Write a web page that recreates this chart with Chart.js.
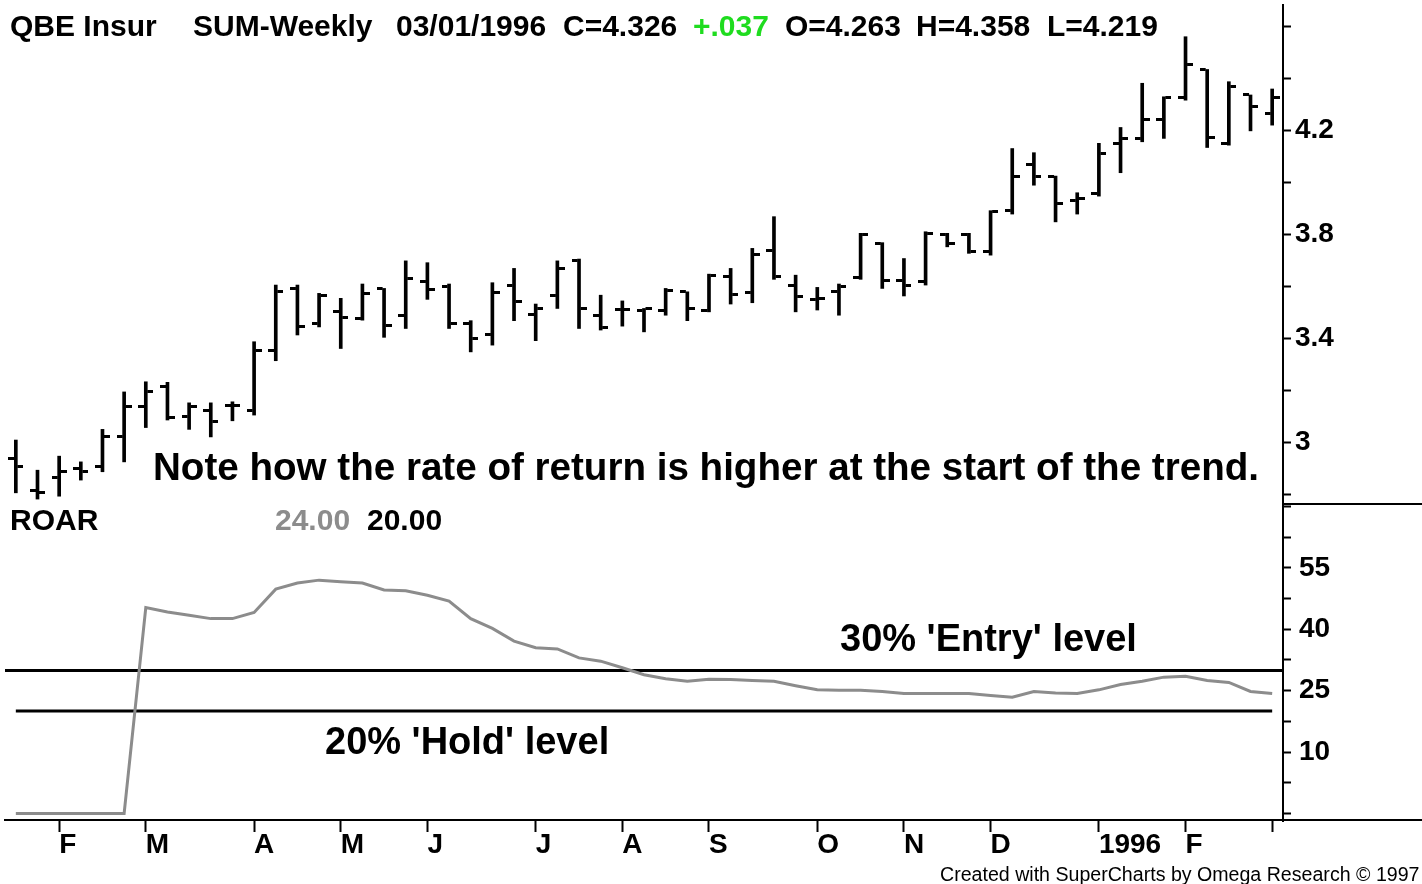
<!DOCTYPE html>
<html>
<head>
<meta charset="utf-8">
<script src="https://cdn.jsdelivr.net/npm/chart.js@4.4.1/dist/chart.umd.min.js"></script>
<style>
  body { margin: 0; background: #fff; }
  #wrap { position: relative; width: 1422px; height: 884px; overflow: hidden; }
  .txt { position: absolute; white-space: nowrap; line-height: 1; font-family: "Liberation Sans", Arial, sans-serif; color: #000; }
  .hdr { top: 11px; font-size: 30px; font-weight: bold; }
  .big { font-size: 38px; font-weight: bold; }
</style>
</head>
<body>
<div id="wrap">
  <canvas id="chart"></canvas>
  <div class="txt hdr" style="left:10px">QBE Insur</div>
  <div class="txt hdr" style="left:193px">SUM-Weekly</div>
  <div class="txt hdr" style="left:396px">03/01/1996</div>
  <div class="txt hdr" style="left:563px">C=4.326</div>
  <div class="txt hdr" style="left:693px;color:#1fdc1f">+.037</div>
  <div class="txt hdr" style="left:785px">O=4.263</div>
  <div class="txt hdr" style="left:916px">H=4.358</div>
  <div class="txt hdr" style="left:1047px">L=4.219</div>
  <div class="txt big" style="left:153px;top:448px;font-size:38.6px">Note how the rate of return is higher at the start of the trend.</div>
  <div class="txt hdr" style="left:10px;top:505px">ROAR</div>
  <div class="txt hdr" style="left:275px;top:505px;color:#8c8c8c">24.00</div>
  <div class="txt hdr" style="left:367px;top:505px">20.00</div>
  <div class="txt big" style="left:840px;top:619px">30% 'Entry' level</div>
  <div class="txt big" style="left:325px;top:722px">20% 'Hold' level</div>
  <div class="txt" style="left:940px;top:865px;font-size:19.6px">Created with SuperCharts by Omega Research © 1997</div>
</div>
<script>
// weekly bars, week ending
const weeks = ['01/20/1995','01/27/1995','02/03/1995','02/10/1995','02/17/1995','02/24/1995',
  '03/03/1995','03/10/1995','03/17/1995','03/24/1995','03/31/1995',
  '04/07/1995','04/14/1995','04/21/1995','04/28/1995',
  '05/05/1995','05/12/1995','05/19/1995','05/26/1995',
  '06/02/1995','06/09/1995','06/16/1995','06/23/1995','06/30/1995',
  '07/07/1995','07/14/1995','07/21/1995','07/28/1995',
  '08/04/1995','08/11/1995','08/18/1995','08/25/1995',
  '09/01/1995','09/08/1995','09/15/1995','09/22/1995','09/29/1995',
  '10/06/1995','10/13/1995','10/20/1995','10/27/1995',
  '11/03/1995','11/10/1995','11/17/1995','11/24/1995',
  '12/01/1995','12/08/1995','12/15/1995','12/22/1995','12/29/1995',
  '01/05/1996','01/12/1996','01/19/1996','01/26/1996',
  '02/02/1996','02/09/1996','02/16/1996','02/23/1996',
  '03/01/1996'];

const opens = [2.938,2.815,2.862,2.899,2.905,3.020,3.138,3.212,3.097,3.123,3.142,3.123,3.354,3.591,3.456,
  3.501,3.476,3.591,3.485,3.617,3.597,3.456,3.415,3.604,3.492,3.562,3.700,3.485,3.510,3.508,
  3.508,3.578,3.508,3.636,3.574,3.736,3.604,3.549,3.578,3.633,3.764,3.623,3.617,3.800,3.800,
  3.732,3.892,4.069,4.023,3.931,3.956,4.149,4.168,4.241,4.326,4.433,4.149,4.335,4.263];
const highs = [3.008,2.892,2.946,2.924,3.049,3.193,3.232,3.230,3.151,3.151,3.155,3.386,3.604,3.604,3.572,
  3.553,3.608,3.591,3.697,3.690,3.608,3.467,3.613,3.668,3.531,3.697,3.704,3.565,3.543,3.514,
  3.591,3.578,3.646,3.668,3.745,3.867,3.642,3.595,3.608,3.803,3.767,3.706,3.809,3.803,3.803,
  3.890,4.129,4.113,4.023,3.959,4.149,4.210,4.380,4.328,4.559,4.433,4.386,4.335,4.358];
const lows = [2.805,2.781,2.792,2.854,2.886,2.924,3.056,3.085,3.049,3.020,3.082,3.104,3.313,3.412,3.443,
  3.360,3.469,3.403,3.437,3.549,3.437,3.347,3.373,3.467,3.390,3.514,3.437,3.431,3.446,3.424,
  3.488,3.467,3.501,3.531,3.536,3.626,3.501,3.508,3.488,3.626,3.591,3.562,3.604,3.751,3.726,
  3.719,3.877,3.988,3.847,3.877,3.946,4.036,4.155,4.168,4.315,4.133,4.142,4.197,4.219];
const closes = [2.908,2.808,2.888,2.886,3.020,3.138,3.193,3.096,3.136,3.078,3.142,3.351,3.578,3.443,3.562,
  3.480,3.572,3.450,3.630,3.587,3.456,3.399,3.574,3.540,3.514,3.668,3.514,3.441,3.510,3.514,
  3.582,3.514,3.642,3.569,3.723,3.636,3.559,3.553,3.600,3.800,3.623,3.604,3.803,3.762,3.732,
  3.886,4.020,4.020,3.918,3.937,4.110,4.168,4.241,4.326,4.454,4.172,4.367,4.289,4.326];

// ROAR indicator (%)
const roar = [-5,-5,-5,-5,-5,-5,45.3,44.2,43.4,42.6,42.6,44.1,49.8,51.3,52.0,51.6,51.3,49.6,49.4,48.3,
  46.9,42.6,40.2,37.1,35.5,35.2,33.0,32.2,30.6,28.9,27.9,27.3,27.8,27.7,27.5,27.3,26.2,25.2,25.1,25.1,
  24.8,24.3,24.3,24.3,24.3,23.8,23.4,24.8,24.4,24.3,25.2,26.5,27.3,28.3,28.5,27.5,27.0,24.8,24.3];
const ENTRY_LEVEL = 30;
const HOLD_LEVEL = 20;

const monthTickIdx = [2, 6, 11, 15, 19, 24, 28, 32, 37, 41, 45, 50, 54, 58];
const monthTickText = ['F','M','A','M','J','J','A','S','O','N','D','1996','F',''];
const priceTicks = [2.8, 3, 3.2, 3.4, 3.6, 3.8, 4, 4.2, 4.4, 4.6];
const priceLabels = [3, 3.4, 3.8, 4.2];
const roarTicks = [-5, 2.5, 10, 17.5, 25, 32.5, 40, 47.5, 55, 62.5, 70];
const roarLabels = [10, 25, 40, 55];

const GRAY = '#8c8c8c';
const AXIS_W = 139;

function tickMark(side) {
  const c = document.createElement('canvas');
  c.width = 15;
  c.height = 3;
  const g = c.getContext('2d');
  g.fillStyle = '#000';
  g.fillRect(side === 'left' ? 0 : 9, 0, 6, 3);
  return c;
}

const extraLines = {
  id: 'extraLines',
  afterDraw(chart) {
    const { ctx, chartArea } = chart;
    const top = chart.scales.yRoar.top;
    ctx.save();
    ctx.fillStyle = '#000';
    ctx.fillRect(chartArea.right, Math.round(top) - 1, chart.width - chartArea.right, 2);
    ctx.fillRect(chartArea.right, Math.round(chartArea.bottom) - 1, chart.width - chartArea.right, 2);
    ctx.restore();
  }
};

Chart.defaults.font.family = "'Liberation Sans', Arial, sans-serif";
Chart.defaults.color = '#000';

const axisFont = { size: 28, weight: 'bold', lineHeight: 1 };
const isEntry = (c) => c.tick && c.tick.value === ENTRY_LEVEL;

new Chart(document.getElementById('chart'), {
  type: 'bar',
  data: {
    labels: weeks,
    datasets: [
      {
        type: 'line',
        data: opens,
        yAxisID: 'yPrice',
        showLine: false,
        pointStyle: tickMark('left'),
      },
      {
        type: 'line',
        data: closes,
        yAxisID: 'yPrice',
        showLine: false,
        pointStyle: tickMark('right'),
      },
      {
        data: lows.map((l, i) => [l, highs[i]]),
        yAxisID: 'yPrice',
        backgroundColor: '#000',
        barThickness: 3,
        grouped: false,
      },
      {
        type: 'line',
        data: roar,
        yAxisID: 'yRoar',
        borderColor: GRAY,
        borderWidth: 3,
        pointRadius: 0,
        tension: 0,
      },
      {
        type: 'line',
        data: weeks.map(() => HOLD_LEVEL),
        yAxisID: 'yRoar',
        borderColor: '#000',
        borderWidth: 3,
        pointRadius: 0,
      },
    ],
  },
  options: {
    responsive: true,
    maintainAspectRatio: false,
    animation: false,
    events: [],
    layout: { padding: { left: 0, top: 5, right: 0, bottom: 0 } },
    plugins: { legend: { display: false }, tooltip: { enabled: false } },
    scales: {
      x: {
        offset: true,
        grid: {
          offset: false,
          drawOnChartArea: false,
          tickLength: 12,
          tickWidth: 2,
          tickColor: (c) => (monthTickIdx.includes(c.index) ? '#000' : 'rgba(0,0,0,0)'),
        },
        border: { color: '#000', width: 2 },
        ticks: {
          autoSkip: false,
          maxRotation: 0,
          align: 'start',
          labelOffset: 0,
          padding: -1,
          font: axisFont,
          callback: (v, i) => {
            const k = monthTickIdx.indexOf(i);
            return k < 0 ? '' : monthTickText[k];
          },
        },
        afterFit: (s) => { s.height = 64; s.paddingLeft = 0; s.paddingRight = 0; },
      },
      yPrice: {
        position: 'right',
        stack: 'panels',
        stackWeight: 499,
        min: 2.762,
        max: 4.681,
        grid: { drawOnChartArea: false, tickLength: 8, tickWidth: 2, tickColor: '#000' },
        border: { color: '#000', width: 2 },
        ticks: {
          autoSkip: false,
          padding: 4,
          font: axisFont,
          callback: (v) => (priceLabels.includes(v) ? String(v) : ''),
        },
        afterBuildTicks: (s) => { s.ticks = priceTicks.map((v) => ({ value: v })); },
        afterFit: (s) => { s.width = AXIS_W; s.paddingTop = 0; s.paddingBottom = 0; },
      },
      yRoar: {
        position: 'right',
        stack: 'panels',
        stackWeight: 316,
        min: -6.6,
        max: 70.6,
        grid: {
          drawOnChartArea: true,
          tickLength: 8,
          tickWidth: 2,
          color: (c) => (isEntry(c) ? '#000' : 'rgba(0,0,0,0)'),
          lineWidth: 3,
          tickColor: (c) => (isEntry(c) ? 'rgba(0,0,0,0)' : '#000'),
        },
        border: { color: '#000', width: 2 },
        ticks: {
          autoSkip: false,
          padding: 8,
          font: axisFont,
          callback: (v) => (roarLabels.includes(v) ? String(v) : ''),
        },
        afterBuildTicks: (s) => {
          s.ticks = roarTicks.concat([ENTRY_LEVEL]).sort((a, b) => a - b).map((v) => ({ value: v }));
        },
        afterFit: (s) => { s.width = AXIS_W; s.paddingTop = 0; s.paddingBottom = 0; },
      },
    },
  },
  plugins: [extraLines],
});
</script>
</body>
</html>
